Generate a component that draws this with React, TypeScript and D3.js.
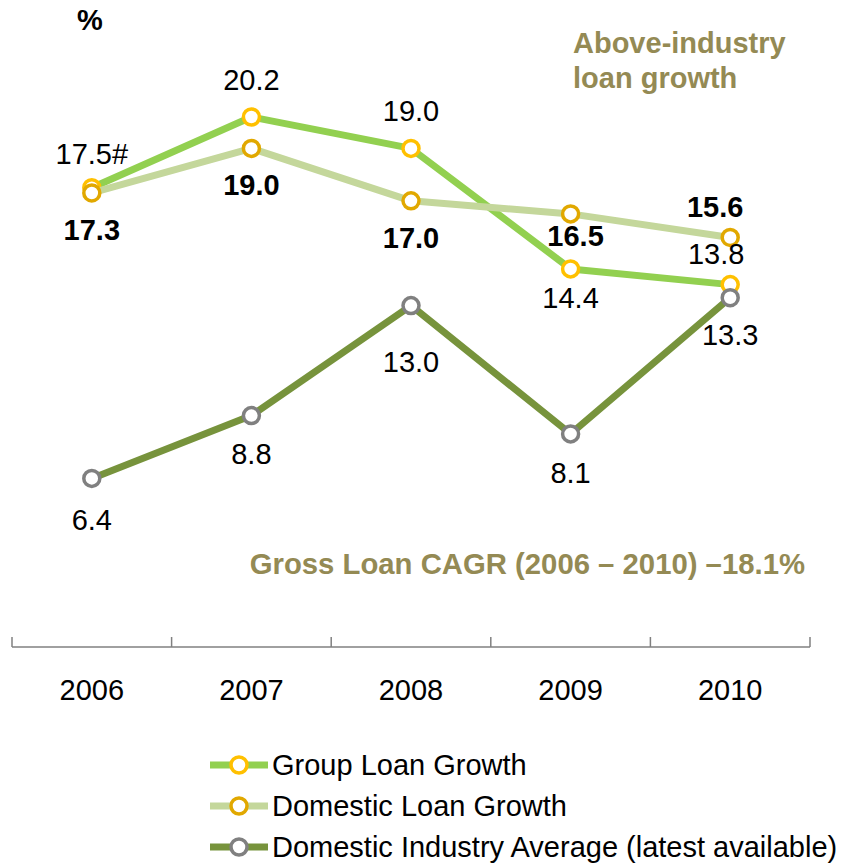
import React from "react";
import * as d3 from "d3";

const years = ["2006", "2007", "2008", "2009", "2010"];
const groupGrowth = [17.5, 20.2, 19.0, 14.4, 13.8];
const groupLabels = ["17.5#", "20.2", "19.0", "14.4", "13.8"];
const domesticGrowth = [17.3, 19.0, 17.0, 16.5, 15.6];
const domesticLabels = ["17.3", "19.0", "17.0", "16.5", "15.6"];
const industryAvg = [6.4, 8.8, 13.0, 8.1, 13.3];
const industryLabels = ["6.4", "8.8", "13.0", "8.1", "13.3"];
const seriesNames = ["Group Loan Growth", "Domestic Loan Growth", "Domestic Industry Average (latest available)"];

// label offsets (dx, dy relative to the point)
const groupOff = [[0, -24], [0, -27], [0, -27], [0, 39], [-14, -21]];
const domesticOff = [[0, 47], [0, 47], [0, 47], [5, 32], [-15, -20]];
const industryOff = [[0, 52], [0, 48], [0, 66], [0, 49], [0, 47]];

const W = 843;
const H = 865;
const FONT = "'Liberation Sans', Arial, sans-serif";
const OLIVE = "#948A54";
const FS = 29;

export default function App() {
  const x = d3.scaleBand().domain(years).range([12, 810]).padding(0);
  const y = d3.scaleLinear().domain([0, 24]).range([646, 17.5]);
  const cx = (yr: string) => (x(yr) as number) + x.bandwidth() / 2;
  const line = d3
    .line<[string, number]>()
    .x((d) => cx(d[0]))
    .y((d) => y(d[1]));

  const series = [
    { name: seriesNames[0], values: groupGrowth, labels: groupLabels, off: groupOff, line: "#92D050", marker: "#FFC000", bold: false },
    { name: seriesNames[1], values: domesticGrowth, labels: domesticLabels, off: domesticOff, line: "#C4D79B", marker: "#E1A800", bold: true },
    { name: seriesNames[2], values: industryAvg, labels: industryLabels, off: industryOff, line: "#77933C", marker: "#808080", bold: false },
  ];

  const boundaries = years.map((yr) => x(yr) as number).concat([810]);
  const legendY = [765, 806, 847];

  return (
    <div style={{ position: "absolute", left: 0, top: 0 }}>
      <svg width={W} height={H} style={{ display: "block", background: "#fff" }} fontFamily={FONT}>
        <text x={90} y={30} fontSize={FS} fontWeight="bold" textAnchor="middle" fill="#000">%</text>
        <text x={573} y={53} fontSize={FS} fontWeight="bold" fill={OLIVE}>Above-industry</text>
        <text x={573} y={88} fontSize={FS} fontWeight="bold" fill={OLIVE}>loan growth</text>
        <text x={805} y={574} fontSize={29.3} fontWeight="bold" fill={OLIVE} textAnchor="end">Gross Loan CAGR (2006 – 2010) –18.1%</text>

        {/* axis */}
        <line x1={12} x2={810} y1={647} y2={647} stroke="#808080" strokeWidth={1.5} />
        {boundaries.map((bx, i) => (
          <line key={i} x1={bx} x2={bx} y1={637} y2={647} stroke="#808080" strokeWidth={1.5} />
        ))}
        {years.map((yr) => (
          <text key={yr} x={cx(yr)} y={700} fontSize={FS} textAnchor="middle" fill="#000">{yr}</text>
        ))}

        {/* lines and markers */}
        {series.map((s) => (
          <g key={s.name}>
            <path
              d={line(years.map((yr, i) => [yr, s.values[i]] as [string, number])) || ""}
              fill="none"
              stroke={s.line}
              strokeWidth={7}
              strokeLinejoin="round"
            />
            {years.map((yr, i) => (
              <circle key={yr} cx={cx(yr)} cy={y(s.values[i])} r={8} fill="#fff" stroke={s.marker} strokeWidth={3.5} />
            ))}
          </g>
        ))}

        {/* data labels */}
        {series.map((s) => (
          <g key={s.name + "-lab"}>
            {years.map((yr, i) => (
              <text
                key={yr}
                x={cx(yr) + s.off[i][0]}
                y={y(s.values[i]) + s.off[i][1]}
                fontSize={FS}
                fontWeight={s.bold ? "bold" : "normal"}
                textAnchor="middle"
                fill="#000"
              >
                {s.labels[i]}
              </text>
            ))}
          </g>
        ))}

        {/* legend */}
        {series.map((s, i) => (
          <g key={s.name + "-leg"}>
            <line x1={210} x2={268} y1={legendY[i]} y2={legendY[i]} stroke={s.line} strokeWidth={7} />
            <circle cx={239} cy={legendY[i]} r={8} fill="#fff" stroke={s.marker} strokeWidth={3.5} />
            <text x={272} y={legendY[i] + 10} fontSize={FS} fill="#000">{s.name}</text>
          </g>
        ))}
      </svg>
    </div>
  );
}
